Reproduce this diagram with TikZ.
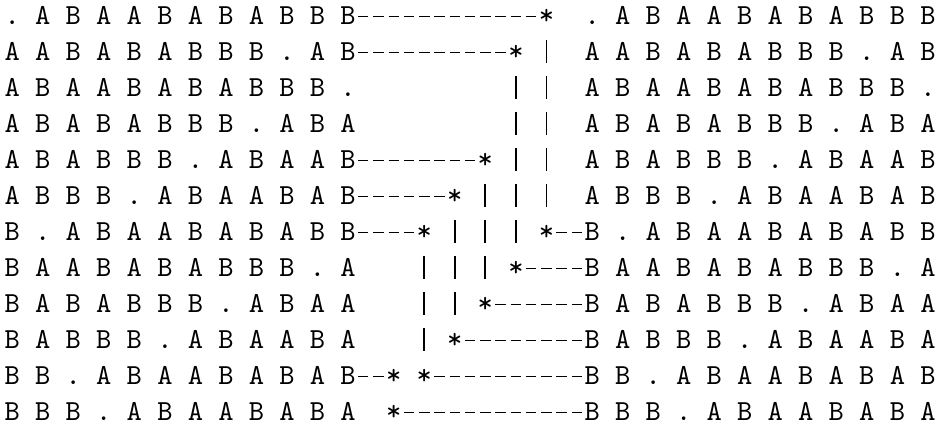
\documentclass[tikz,border=0pt]{standalone}
\tikzset{
  txt/.style={inner sep=0pt, outer sep=0pt, anchor=base west, font=\ttfamily\frenchspacing},
  hyph/.style={line width=0.62pt, dash pattern=on 3.6pt off 1.65pt},
  vbar/.style={line width=0.6pt, dash pattern=on 8pt off 4.38pt},
}
\newcommand\colx[1]{\fpeval{1.6+5.25*(#1)}pt}
\newcommand\rowy[1]{\fpeval{-8.6-12.38*((#1)-1)}pt}
\begin{document}
\begin{tikzpicture}
\useasboundingbox (0,0) rectangle (322.7pt,-146.9pt);
% left and right strings
\foreach \r/\s in {
  1/{. A B A A B A B A B B B},
  2/{A A B A B A B B B . A B},
  3/{A B A A B A B A B B B .},
  4/{A B A B A B B B . A B A},
  5/{A B A B B B . A B A A B},
  6/{A B B B . A B A A B A B},
  7/{B . A B A A B A B A B B},
  8/{B A A B A B A B B B . A},
  9/{B A B A B B B . A B A A},
  10/{B A B B B . A B A A B A},
  11/{B B . A B A A B A B A B},
  12/{B B B . A B A A B A B A}}
{
  \node[txt] (L\r) at (\colx{0},\rowy{\r}) {\s};
  \node[txt] (R\r) at (\colx{38},\rowy{\r}) {\s};
}
% asterisks: name / column / row
\foreach \n/\c/\r in {a1/35/1, a2/33/2, a5/31/5, a6/29/6, a7/27/7, a11/25/11,
                      b7/35/7, b8/33/8, b9/31/9, b10/29/10, b11/27/11, b12/25/12}
{
  \node[txt] (\n) at (\colx{\c},\rowy{\r}) {*};
}
% horizontal connectors from the left strings
\foreach \r in {1,2,5,6,7,11}
  \draw[hyph] ([shift={(0.82pt,2.9pt)}]L\r.base east) -- ([shift={(-0.82pt,2.9pt)}]a\r.base west);
% horizontal connectors to the right strings
\foreach \r in {7,8,9,10,11,12}
  \draw[hyph] ([shift={(0.82pt,2.9pt)}]b\r.base east) -- ([shift={(-0.82pt,2.9pt)}]R\r.base west);
% vertical connectors
\foreach \s/\t in {a1/b7, a2/b8, a5/b9, a6/b10, a7/b11}
  \draw[vbar] ([yshift=-5.18pt]\s.base) -- ([yshift=11.58pt]\t.base);
\end{tikzpicture}
\end{document}
